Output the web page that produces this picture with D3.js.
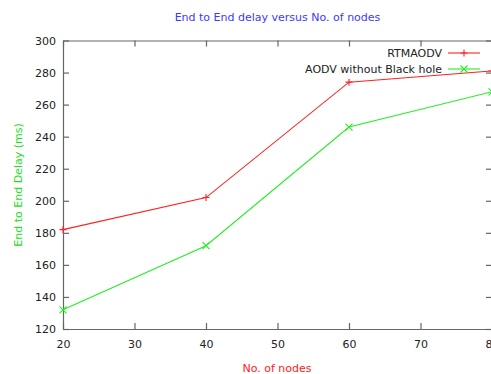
<!DOCTYPE html>
<html>
<head>
<meta charset="utf-8">
<script src="https://cdn.jsdelivr.net/npm/d3@7"></script>
<style>
  body { margin: 0; background: #fff; overflow: hidden; }
  text { font-family: "DejaVu Sans", sans-serif; }
</style>
</head>
<body>
<div id="chart"></div>
<script>
// data
var nodes = [20, 40, 60, 80];
var rtmaodv = [182, 202, 274, 281];
var aodvNoBH = [132, 172, 246, 268];
var xTicks = [20, 30, 40, 50, 60, 70, 80];
var yTicks = [120, 140, 160, 180, 200, 220, 240, 260, 280, 300];
var seriesNames = ["RTMAODV", "AODV without Black hole"];

var W = 491, H = 374;
var area = { l: 63, r: 492, t: 40.5, b: 329 },
    color = { red: "#ff2020", green: "#22ee22", axis: "#666", txt: "#222" };

var svg = d3.select("#chart").append("svg").attr("width", W).attr("height", H);

var x = d3.scaleLinear().domain([20, 80]).range([area.l, area.r]);
var y = d3.scaleLinear().domain([120, 300]).range([area.b, area.t]);

//axes
function styleAxis(g) {
  g.select(".domain").attr("stroke", color.axis).attr("stroke-width", 1.2);
  g.selectAll(".tick line").attr("stroke", color.axis).attr("stroke-width", 1.2);
  g.selectAll(".tick text").attr("fill", color.txt).attr("font-size", 11)
    .attr("font-family", "DejaVu Sans, sans-serif");
}
svg.append("g").attr("transform", "translate(0," + area.b + ")")
   .call(d3.axisBottom(x).tickValues(xTicks).tickSize(-6).tickSizeOuter(0).tickPadding(11))
   .call(styleAxis);
svg.append("g").attr("transform", "translate(" + area.l + ",0)")
   .call(d3.axisLeft(y).tickValues(yTicks).tickSize(-6).tickSizeOuter(0).tickPadding(7))
   .call(styleAxis);
// mirrored top / right
svg.append("g").attr("transform", "translate(0," + area.t + ")")
   .call(d3.axisTop(x).tickValues(xTicks).tickSize(-6).tickSizeOuter(0).tickFormat(""))
   .call(styleAxis);
svg.append("g").attr("transform", "translate(" + area.r + ",0)")
   .call(d3.axisRight(y).tickValues(yTicks).tickSize(-6).tickSizeOuter(0).tickFormat(""))
   .call(styleAxis);

//lines
var line = d3.line().x(function(d) { return x(d[0]); }).y(function(d) { return y(d[1]); });
function drawSeries(vals, c, marker, ly) {
  var pts = nodes.map(function(n, i) { return [n, vals[i]]; });
  svg.append("path").datum(pts).attr("d", line).attr("fill", "none")
     .attr("stroke", c).attr("stroke-width", 1.1);
  var g = svg.append("g");
  pts.forEach(function(p) { drawMarker(g, x(p[0]), y(p[1]), c, marker); });
  // legend sample
  svg.append("line").attr("x1", 448).attr("x2", 480).attr("y1", ly).attr("y2", ly)
     .attr("stroke", c).attr("stroke-width", 1.1);
  drawMarker(svg, 464, ly, c, marker);
}
function drawMarker(g, cx, cy, c, marker) {
  var s = 3.5;
  if (marker == "plus") {
    g.append("path").attr("d", "M" + (cx - s) + "," + cy + "H" + (cx + s) + "M" + cx + "," + (cy - s) + "V" + (cy + s))
     .attr("stroke", c).attr("stroke-width", 1.1);
  } else {
    g.append("path").attr("d", "M" + (cx - s) + "," + (cy - s) + "L" + (cx + s) + "," + (cy + s) + "M" + (cx - s) + "," + (cy + s) + "L" + (cx + s) + "," + (cy - s))
     .attr("stroke", c).attr("stroke-width", 1.1);
  }
}
drawSeries(rtmaodv, color.red, "plus", 53);
drawSeries(aodvNoBH, color.green, "cross", 69);

//legend text
svg.append("text").attr("x", 442).attr("y", 57).attr("text-anchor", "end")
   .attr("font-size", 11).attr("fill", color.txt).text(seriesNames[0]);
svg.append("text").attr("x", 442).attr("y", 73).attr("text-anchor", "end")
   .attr("font-size", 11).attr("fill", color.txt).text(seriesNames[1]);

//titles
svg.append("text").attr("x", 277.5).attr("y", 21).attr("text-anchor", "middle")
   .attr("font-size", 11).attr("fill", "#3a3aff").text("End to End delay versus No. of nodes");
svg.append("text").attr("x", 277).attr("y", 372).attr("text-anchor", "middle")
   .attr("font-size", 11).attr("fill", "#ff2020").text("No. of nodes");
svg.append("text").attr("transform", "translate(22,185) rotate(-90)").attr("text-anchor", "middle")
   .attr("font-size", 11).attr("fill", "#22dd22").text("End to End Delay (ms)");
</script>
</body>
</html>
